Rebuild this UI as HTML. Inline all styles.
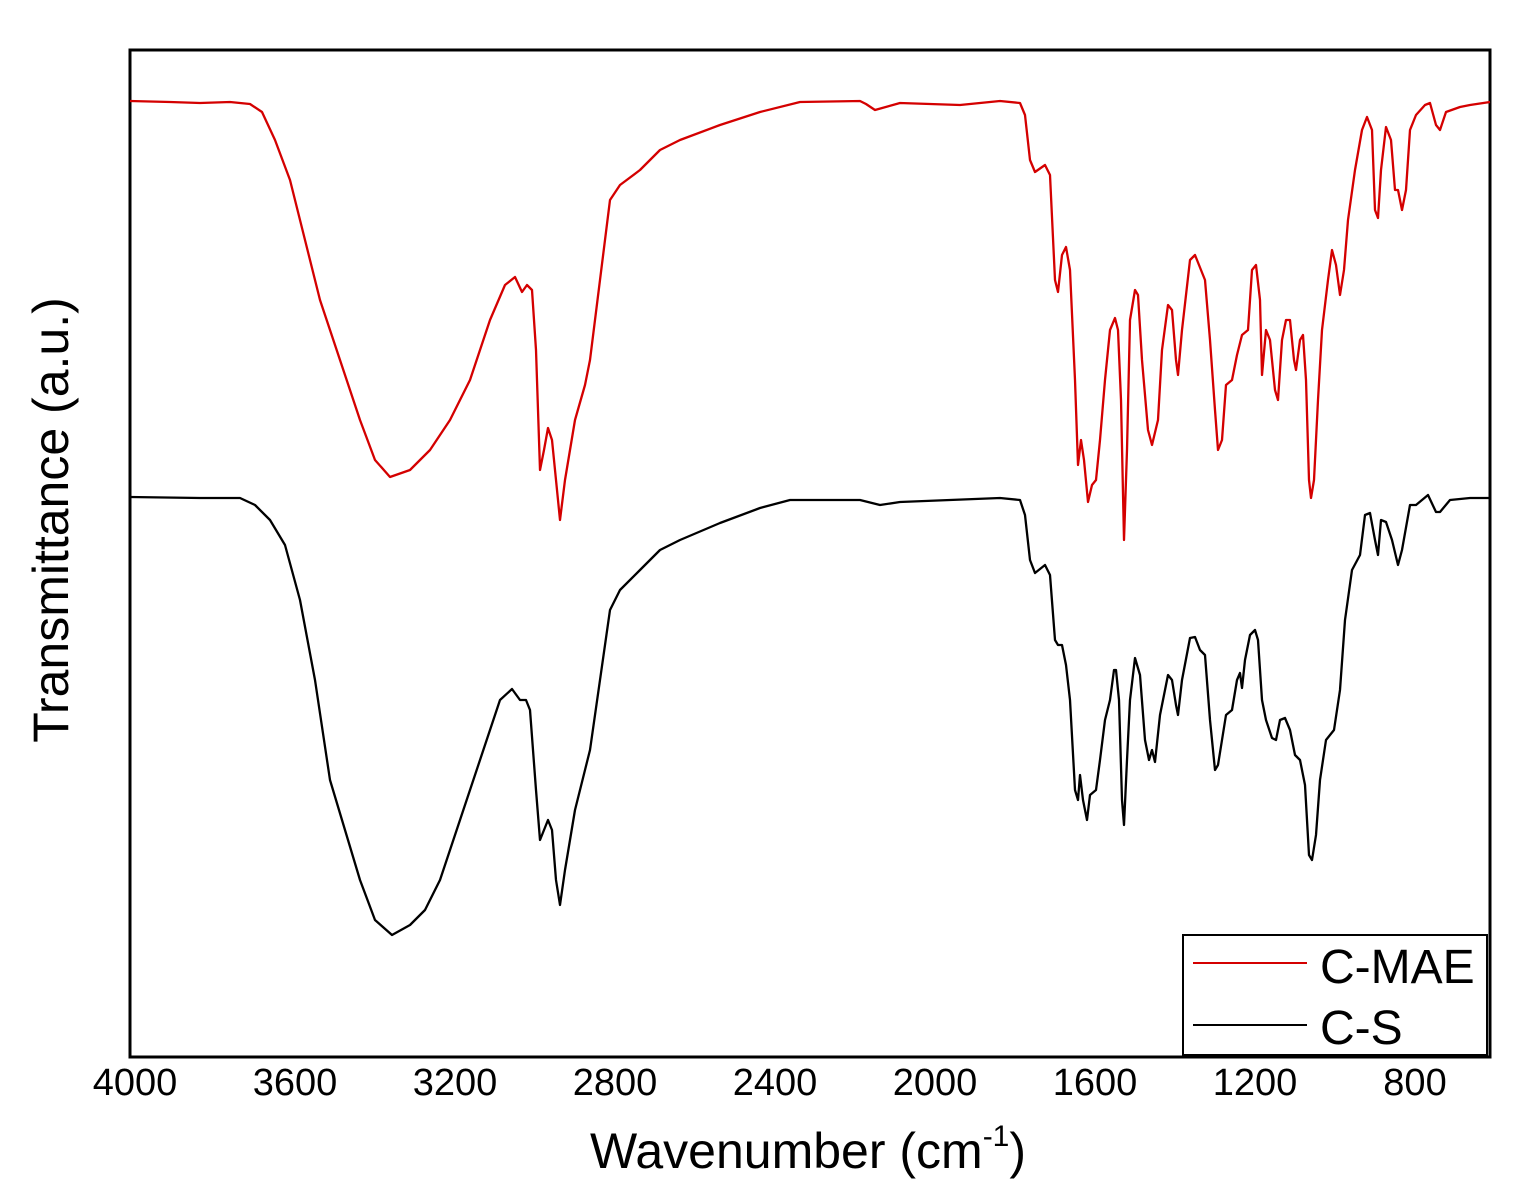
<!DOCTYPE html>
<html><head><meta charset="utf-8"><style>
html,body{margin:0;padding:0;background:#fff;}
svg{display:block;}
text{font-family:"Liberation Sans",Arial,sans-serif;fill:#000;}
</style></head><body>
<svg width="1535" height="1200" viewBox="0 0 1535 1200" xmlns="http://www.w3.org/2000/svg">
<rect x="130" y="50" width="1360" height="1007" fill="none" stroke="#000" stroke-width="3"/>
<polyline fill="none" stroke="#d40000" stroke-width="2.3" stroke-linejoin="round" points="130,101 170,102 200,103 230,102 250,104 262,112 275,140 290,180 305,240 320,300 340,360 360,420 375,460 390,477 410,470 430,450 450,420 470,380 490,320 505,285 515,277 522,292 527,285 532,290 536,350 540,470 544,450 548,428 552,440 556,480 560,520 565,480 575,420 585,385 590,360 600,280 610,200 620,185 640,170 660,150 680,140 720,125 760,112 800,102 860,101 866,104 875,110 900,103 960,105 1000,101 1020,103 1025,115 1030,160 1035,172 1045,165 1050,175 1055,280 1058,292 1062,255 1066,247 1070,270 1075,380 1078,465 1081,440 1084,460 1088,502 1092,485 1096,480 1100,440 1105,380 1110,330 1115,318 1118,330 1121,400 1124,540 1127,450 1130,320 1135,290 1138,295 1142,360 1148,430 1152,445 1158,420 1162,350 1168,305 1172,310 1176,360 1178,375 1182,330 1190,260 1195,255 1205,280 1210,340 1215,410 1218,450 1222,440 1226,385 1232,380 1237,355 1242,335 1248,330 1252,270 1256,265 1260,300 1262,375 1266,330 1270,340 1275,390 1278,400 1282,340 1286,320 1290,320 1294,360 1296,370 1300,340 1303,335 1306,380 1309,480 1311,498 1314,480 1318,400 1322,330 1328,280 1332,250 1336,265 1340,295 1344,270 1348,220 1355,170 1362,130 1367,117 1372,130 1375,210 1378,218 1381,170 1386,127 1391,140 1395,190 1398,190 1402,210 1406,190 1410,130 1416,115 1425,105 1430,103 1436,125 1440,130 1446,112 1460,107 1470,105 1490,102"/>
<polyline fill="none" stroke="#000" stroke-width="2.3" stroke-linejoin="round" points="130,497 200,498 240,498 255,505 270,520 285,545 300,600 315,680 330,780 345,830 360,880 375,920 392,935 410,925 425,910 440,880 460,820 480,760 500,700 512,689 520,700 526,700 530,710 536,790 540,840 544,830 548,820 552,830 556,880 560,905 565,870 575,810 585,770 590,750 600,680 610,610 620,590 640,570 660,550 680,540 720,523 760,508 790,500 860,500 880,505 900,502 1000,498 1020,500 1025,515 1030,560 1035,573 1045,565 1050,575 1055,640 1058,645 1062,645 1066,665 1070,700 1075,790 1078,800 1080,775 1083,800 1087,820 1090,795 1096,790 1100,760 1105,720 1110,700 1114,670 1116,670 1119,700 1122,800 1124,825 1127,760 1130,700 1135,658 1140,675 1145,740 1149,760 1152,750 1155,762 1160,715 1168,675 1172,680 1176,705 1178,715 1182,680 1190,638 1195,637 1200,650 1205,655 1210,720 1215,770 1218,765 1222,740 1226,715 1232,710 1237,680 1240,673 1242,688 1245,660 1250,635 1255,630 1258,640 1262,700 1266,720 1272,738 1276,740 1280,720 1285,718 1290,730 1295,755 1300,760 1305,785 1309,855 1312,860 1316,835 1320,780 1326,740 1334,730 1340,690 1345,620 1352,570 1360,555 1365,515 1370,513 1375,540 1378,555 1381,520 1386,522 1392,540 1398,565 1402,550 1410,505 1416,505 1428,495 1436,512 1440,512 1450,500 1470,498 1490,498"/>
<rect x="1183" y="935" width="304" height="120" fill="#fff" stroke="#000" stroke-width="2"/>
<line x1="1193" y1="963" x2="1307" y2="963" stroke="#d40000" stroke-width="2"/>
<line x1="1193" y1="1025" x2="1307" y2="1025" stroke="#000" stroke-width="2"/>
<text x="1320" y="983" font-size="48">C-MAE</text>
<text x="1320" y="1044" font-size="48">C-S</text>
<g font-size="38" text-anchor="middle">
<text x="135" y="1095">4000</text>
<text x="295" y="1095">3600</text>
<text x="455" y="1095">3200</text>
<text x="615" y="1095">2800</text>
<text x="775" y="1095">2400</text>
<text x="935" y="1095">2000</text>
<text x="1095" y="1095">1600</text>
<text x="1255" y="1095">1200</text>
<text x="1415" y="1095">800</text>
</g>
<text x="590" y="1168" font-size="50">Wavenumber (cm<tspan font-size="30" dy="-22">-1</tspan><tspan dy="22">)</tspan></text>
<text transform="translate(68,520) rotate(-90)" font-size="50" text-anchor="middle">Transmittance (a.u.)</text>
</svg>
</body></html>
